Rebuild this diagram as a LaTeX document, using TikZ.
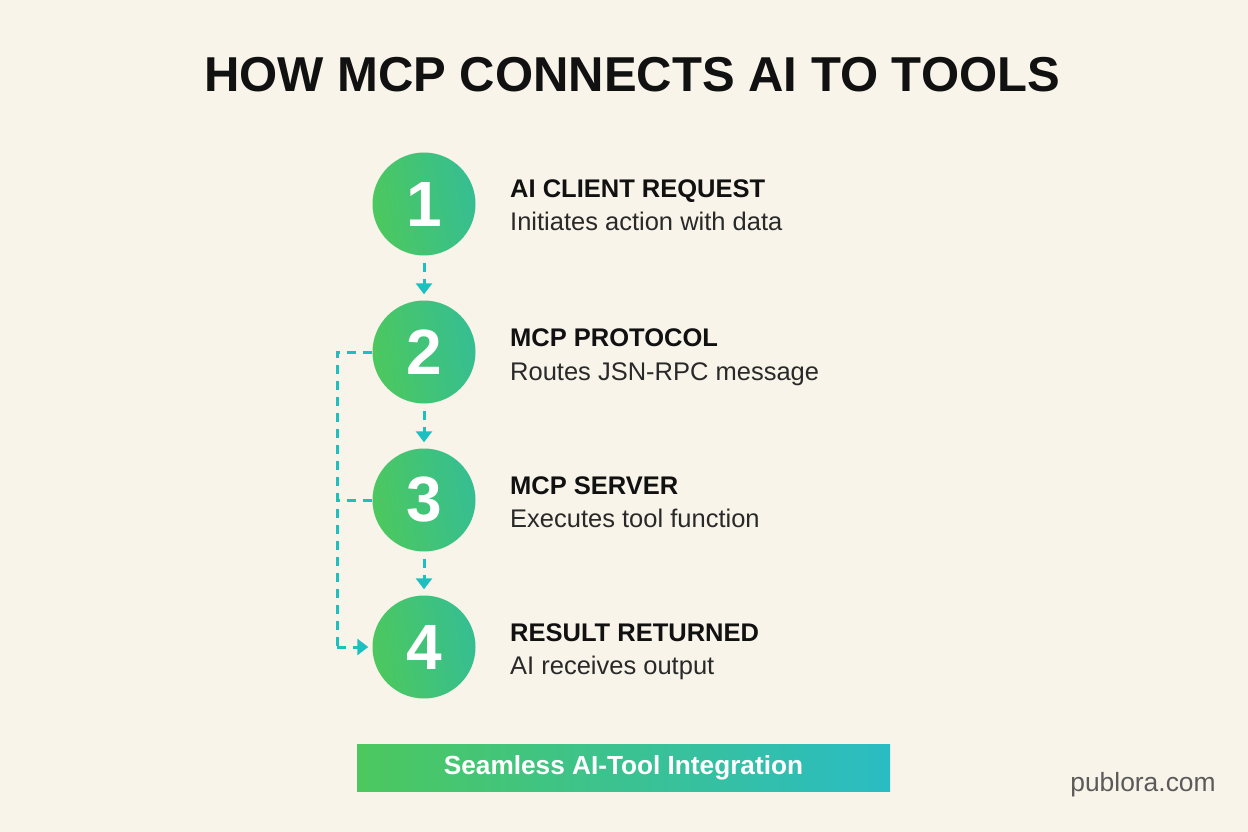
\documentclass[tikz,border=0pt]{standalone}
\usepackage{fontspec}
\setmainfont{Liberation Sans}
\usetikzlibrary{arrows.meta}
\definecolor{bg}{HTML}{F8F4EA}
\definecolor{gA}{HTML}{4CC85E}
\definecolor{gB}{HTML}{36BE92}
\definecolor{tealA}{HTML}{2ABCC4}
\definecolor{arr}{HTML}{1EBFBF}
\definecolor{ink}{HTML}{111111}
\definecolor{gray}{HTML}{5A5A5A}
\tikzset{
  stepcircle/.style={circle, minimum size=103pt, inner sep=0pt, left color=gA, right color=gB, shading angle=100, text=white, font=\bfseries\fontsize{64}{64}\selectfont},
  head/.style={anchor=base west, inner sep=0pt, text=ink, font=\bfseries\fontsize{25.5}{25.5}\selectfont},
  sub/.style={anchor=base west, inner sep=0pt, text=ink!90, font=\fontsize{25.5}{25.5}\selectfont},
  flow/.style={draw=arr, line width=3pt, dash pattern=on 9pt off 7pt, -{Triangle[length=11pt,width=16pt]}},
  link/.style={draw=arr, line width=3pt, dash pattern=on 9pt off 7pt},
}
\begin{document}
\begin{tikzpicture}[x=1pt,y=-1pt]
\useasboundingbox (0,0) rectangle (1248,832);
\fill[bg] (0,0) rectangle (1248,832);
\node[inner sep=0pt, text=ink, font=\bfseries\fontsize{49}{49}\selectfont] (title) at (632,75) {HOW MCP CONNECTS AI TO TOOLS};

\node[stepcircle] (c1) at (424,204) {1};
\node[stepcircle] (c2) at (424,352) {2};
\node[stepcircle] (c3) at (424,500) {3};
\node[stepcircle] (c4) at (424,647) {4};

\node[head] (h1) at (510,197) {AI CLIENT REQUEST};
\node[sub] (s1) at (510,230) {Initiates action with data};
\node[head] (h2) at (510,346) {MCP PROTOCOL};
\node[sub] (s2) at (510,380) {Routes JSN-RPC message};
\node[head] (h3) at (510,494) {MCP SERVER};
\node[sub] (s3) at (510,527) {Executes tool function};
\node[head] (h4) at (510,641) {RESULT RETURNED};
\node[sub] (s4) at (510,674) {AI receives output};

\draw[flow] ([yshift=-7pt]c1.south) -- ([yshift=6pt]c2.north);
\draw[flow] ([yshift=-7pt]c2.south) -- ([yshift=6pt]c3.north);
\draw[flow] ([yshift=-7pt]c3.south) -- ([yshift=6pt]c4.north);

\coordinate (bt) at (337,352);
\coordinate (bm) at (337,500);
\coordinate (bb) at (337,647);
\draw[link] (c2.west) -- (bt) -- (bb);
\draw[link] (c3.west) -- (bm);
\draw[flow] (bb) -- ([xshift=-4pt]c4.west);

\node[minimum width=533pt, minimum height=47pt, inner sep=0pt, left color=gA, right color=tealA, text=white, font=\bfseries\fontsize{26.2}{26.2}\selectfont] (banner) at (623.5,767.5) {\raisebox{-2pt}{Seamless AI-Tool Integration}};
\node[inner sep=0pt, text=gray, font=\fontsize{26.4}{26.4}\selectfont] (brand) at (1143,785) {publora.com};
\end{tikzpicture}
\end{document}
